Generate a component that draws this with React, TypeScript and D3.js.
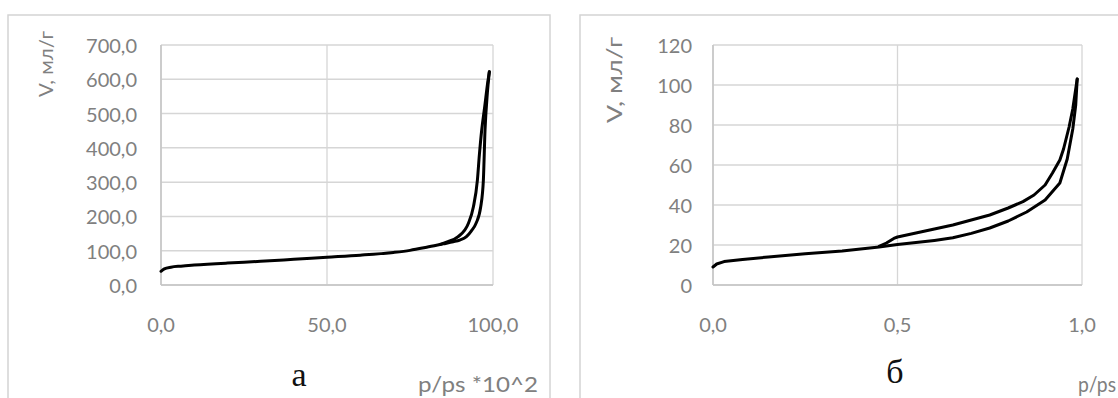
import * as d3 from 'd3';

// panel а: adsorption / desorption, p/ps *10^2 vs V, мл/г
const adsAX = [0, 1, 3, 6, 10, 20, 30, 40, 50, 60, 70, 75, 80, 85, 88, 90, 92, 93.5, 94.9, 96.3, 97.1, 97.6, 98.3, 98.9];
const adsAY = [40, 47, 52, 55, 58, 64, 69, 75, 81, 87, 95, 101, 110, 120, 126, 131, 141, 158, 180, 228, 306, 452, 560, 622];
const desAX = [84, 86, 89.5, 92.6, 94.1, 95.3, 95.9, 96.6, 97.5, 98.4, 98.9];
const desAY = [118, 125, 141, 180, 228, 306, 380, 452, 520, 590, 622];

// panel б: p/ps vs V, мл/г
const adsBX = [0, 0.01, 0.03, 0.08, 0.15, 0.25, 0.35, 0.45, 0.5, 0.55, 0.6, 0.65, 0.7, 0.75, 0.8, 0.85, 0.9, 0.94, 0.96, 0.975, 0.983, 0.987];
const adsBY = [9, 10.5, 11.7, 12.8, 14, 15.6, 17, 19, 20.3, 21.2, 22.3, 23.6, 25.8, 28.5, 32, 36.5, 42.5, 51, 63, 78, 90, 103];
const desBX = [0.45, 0.47, 0.49, 0.5, 0.55, 0.6, 0.65, 0.7, 0.75, 0.8, 0.84, 0.87, 0.9, 0.92, 0.94, 0.95, 0.965, 0.975, 0.987];
const desBY = [19.3, 21, 23.3, 24, 26, 28, 30, 32.5, 35, 38.5, 41.7, 45, 50, 56, 62.5, 68, 79, 88, 103];

const xTicksA = [0, 50, 100];
const yTicksA = [0, 100, 200, 300, 400, 500, 600, 700];
const xTicksB = [0, 0.5, 1];
const yTicksB = [0, 20, 40, 60, 80, 100, 120];

const GRID = '#d6d6d6';
const LABEL = '#808080';
const SANS = 'Lato, "Open Sans", sans-serif';

interface PanelProps {
    frame: { x: number; y: number; w: number; h: number };
    plot: { left: number; right: number; top: number; bottom: number };
    xDomain: [number, number];
    yDomain: [number, number];
    xTicks: number[];
    yTicks: number[];
    xFmt: (v: number) => string;
    yFmt: (v: number) => string;
    series: { x: number[]; y: number[] }[];
    curve: d3.CurveFactory;
    yLabelX: number;
    yTitle: { x: number; y: number; len: number; size: number };
    letter: { x: number; y: number; text: string };
    xTitle: { x: number; y: number; text: string; len?: number };
}

function Panel(p: PanelProps) {
    const x = d3.scaleLinear().domain(p.xDomain).range([p.plot.left, p.plot.right]);
    const y = d3.scaleLinear().domain(p.yDomain).range([p.plot.bottom, p.plot.top]);
    const line = d3
        .line<[number, number]>()
        .x((d) => x(d[0]))
        .y((d) => y(d[1]))
        .curve(p.curve);

    return (
        <g>
            <rect
                x={p.frame.x}
                y={p.frame.y}
                width={p.frame.w}
                height={p.frame.h}
                fill="#fff"
                stroke="#d4d4d4"
                strokeWidth={1.5}
            />
            {p.yTicks.map((t) => (
                <line key={'h' + t} x1={p.plot.left} x2={p.plot.right} y1={y(t)} y2={y(t)} stroke={GRID} strokeWidth={1.5} />
            ))}
            {p.xTicks.map((t) => (
                <line key={'v' + t} x1={x(t)} x2={x(t)} y1={p.plot.top} y2={p.plot.bottom} stroke={GRID} strokeWidth={1.3} />
            ))}
            <line x1={p.plot.left} x2={p.plot.left} y1={p.plot.top} y2={p.plot.bottom} stroke="#c4c4c4" strokeWidth={1.5} />
            <line x1={p.plot.left} x2={p.plot.right} y1={p.plot.bottom} y2={p.plot.bottom} stroke="#c4c4c4" strokeWidth={1.5} />

            {p.series.map((s, i) => (
                <path
                    key={i}
                    d={line(s.x.map((v, j) => [v, s.y[j]] as [number, number])) || ''}
                    fill="none"
                    stroke="#000"
                    strokeWidth={3}
                    strokeLinejoin="round"
                    strokeLinecap="round"
                />
            ))}

            <g fontFamily={SANS} fontSize={20} fill={LABEL}>
                {p.yTicks.map((t) => (
                    <text key={'yl' + t} x={p.yLabelX} y={y(t)} textAnchor="end" dominantBaseline="central">
                        {p.yFmt(t)}
                    </text>
                ))}
                {p.xTicks.map((t) => (
                    <text key={'xl' + t} x={x(t)} y={324} textAnchor="middle" dominantBaseline="central">
                        {p.xFmt(t)}
                    </text>
                ))}
                <text
                    transform={`translate(${p.yTitle.x},${p.yTitle.y}) rotate(-90)`}
                    textAnchor="middle"
                    dominantBaseline="central"
                    fontSize={p.yTitle.size}
                    textLength={p.yTitle.len}
                    lengthAdjust="spacingAndGlyphs"
                >
                    V, мл/г
                </text>
                <text
                    x={p.xTitle.x}
                    y={p.xTitle.y}
                    fontSize={21}
                    textLength={p.xTitle.len}
                    lengthAdjust="spacingAndGlyphs"
                >
                    {p.xTitle.text}
                </text>
            </g>
            <text
                x={p.letter.x}
                y={p.letter.y}
                textAnchor="middle"
                fontFamily='"Liberation Serif", "Times New Roman", serif'
                fontSize={34}
                fill="#111"
            >
                {p.letter.text}
            </text>
        </g>
    );
}

const comma1 = (v: number) => d3.format('.1f')(v).replace('.', ',');

export default function App() {
    return (
        <svg
            width={1118}
            height={398}
            viewBox="0 0 1118 398"
            style={{ position: 'absolute', left: 0, top: 0, background: '#fff' }}
        >
            <Panel
                frame={{ x: 8, y: 15, w: 542, h: 400 }}
                plot={{ left: 161, right: 493, top: 45, bottom: 285 }}
                xDomain={[0, 100]}
                yDomain={[0, 700]}
                xTicks={xTicksA}
                yTicks={yTicksA}
                xFmt={comma1}
                yFmt={comma1}
                series={[
                    { x: adsAX, y: adsAY },
                    { x: desAX, y: desAY },
                ]}
                curve={d3.curveMonotoneX}
                yLabelX={137}
                yTitle={{ x: 45, y: 64, len: 66, size: 19 }}
                letter={{ x: 299, y: 386, text: 'а' }}
                xTitle={{ x: 418, y: 392, text: 'p/ps *10^2', len: 120 }}
            />
            <Panel
                frame={{ x: 580, y: 15, w: 560, h: 400 }}
                plot={{ left: 713, right: 1082, top: 45, bottom: 285 }}
                xDomain={[0, 1]}
                yDomain={[0, 120]}
                xTicks={xTicksB}
                yTicks={yTicksB}
                xFmt={comma1}
                yFmt={(v) => String(v)}
                series={[
                    { x: adsBX, y: adsBY },
                    { x: desBX, y: desBY },
                ]}
                curve={d3.curveLinear}
                yLabelX={692}
                yTitle={{ x: 613, y: 80, len: 86, size: 22 }}
                letter={{ x: 895, y: 383, text: 'б' }}
                xTitle={{ x: 1078, y: 392, text: 'p/ps', len: 38 }}
            />
        </svg>
    );
}
